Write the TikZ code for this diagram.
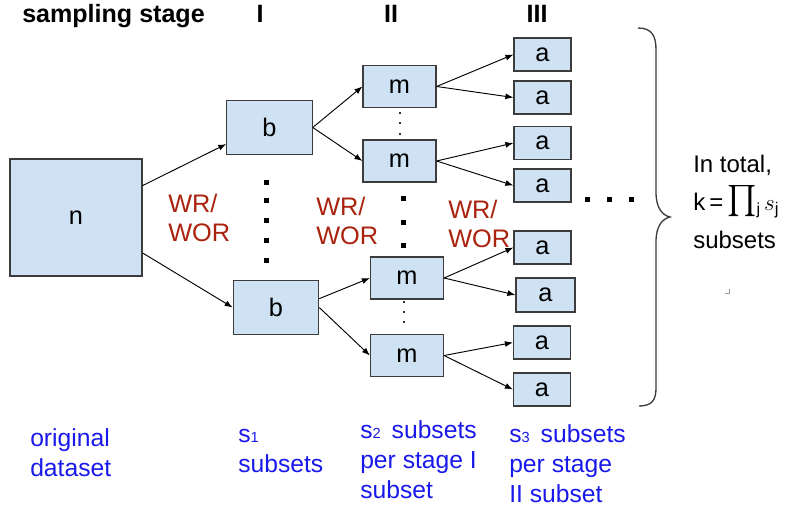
\documentclass[tikz,border=0pt]{standalone}
\usepackage{fontspec}
\setmainfont{Liberation Sans}
\usepackage{amsmath}
\usepackage{graphicx}
\usetikzlibrary{calc,arrows.meta}
\definecolor{boxfill}{RGB}{207,226,243}
\definecolor{boxline}{RGB}{60,60,60}
\definecolor{wrred}{RGB}{170,35,15}
\definecolor{lblblue}{RGB}{25,25,235}
\begin{document}
\begin{tikzpicture}[x=0.75pt,y=-0.75pt,
  box/.style={draw=boxline, fill=boxfill, line width=0.9pt, inner sep=0pt, font=\fontsize{19}{23}\selectfont},
  abox/.style={box, minimum width=42.75pt, minimum height=24.75pt},
  mbox/.style={box, minimum width=54.75pt, minimum height=31.5pt},
  bbox/.style={box, minimum width=64pt, minimum height=40.5pt},
  conn/.style={-{Latex[length=6pt,width=4.5pt]}, line width=0.7pt},
  hdr/.style={font=\fontsize{18.8}{22}\selectfont\bfseries, inner sep=0pt, anchor=base},
  wr/.style={text=wrred, font=\fontsize{19}{21.75}\selectfont, align=left, inner sep=0pt, anchor=base west},
  lbl/.style={text=lblblue, font=\fontsize{18.5}{22.3}\selectfont, align=left, inner sep=0pt, anchor=base west},
  txt/.style={font=\fontsize{18}{28.5}\selectfont, align=left, inner sep=0pt, anchor=base west},
  brace/.style={draw=boxline, line width=1pt},
]
\useasboundingbox (0,0) rectangle (787,506);

% headers
\node[hdr, anchor=base west] (hs) at (22,23) {sampling stage};
\node[hdr] (h1) at (260,23) {I};
\node[hdr] (h2) at (391,23) {II};
\node[hdr] (h3) at (537,23) {III};

% boxes
\node[box, minimum width=99pt, minimum height=87.75pt] (n) at (76,217.5) {n};
\node[bbox] (b1) at (269.5,127.5) {b};
\node[bbox] (b2) at (276,307.5) {b};
\node[mbox] (m1) at (399.5,86.5) {m};
\node[mbox] (m2) at (399.5,161) {m};
\node[mbox] (m3) at (407,278) {m};
\node[mbox] (m4) at (407,355.5) {m};
\node[abox] (a1) at (542.5,54.5) {a};
\node[abox] (a2) at (542.5,97.5) {a};
\node[abox] (a3) at (542.5,143) {a};
\node[abox] (a4) at (542.5,185.5) {a};
\node[abox] (a5) at (542.5,247.5) {a};
\node[abox, minimum width=44.25pt, minimum height=25.5pt] (a6) at (545.5,295) {a};
\node[abox] (a7) at (542,342.5) {a};
\node[abox] (a8) at (542,389.5) {a};

% connectors
\draw[conn] ($(n.north east)!0.23!(n.south east)$) -- ($(b1.north west)!0.8!(b1.south west)$);
\draw[conn] ($(n.north east)!0.8!(n.south east)$) -- (b2.west);
\draw[conn] (b1.east) -- (m1.west);
\draw[conn] (b1.east) -- (m2.west);
\draw[conn] ($(b2.north east)!0.34!(b2.south east)$) -- (m3.west);
\draw[conn] (b2.east) -- (m4.west);
\draw[conn] (m1.east) -- (a1.west);
\draw[conn] (m1.east) -- (a2.west);
\draw[conn] (m2.east) -- (a3.west);
\draw[conn] (m2.east) -- (a4.west);
\draw[conn] (m3.east) -- (a5.west);
\draw[conn] (m3.east) -- (a6.west);
\draw[conn] (m4.east) -- (a7.west);
\draw[conn] (m4.east) -- (a8.west);

% dots
\foreach \y in {182,200,220,240,260}
  \fill (263.5,\y-2.5) rectangle ++(5,5);
\foreach \y in {198,222,245}
  \fill (400.5,\y-2.5) rectangle ++(5,5);
\foreach \x in {587,609,631}
  \fill (\x-2.5,197) rectangle ++(5,5);
\foreach \y in {113,123,134}
  \fill[black!80] (399,\y-1.2) rectangle ++(2.4,2.4);
\foreach \y in {302,312,322}
  \fill[black!80] (403,\y-1.2) rectangle ++(2.4,2.4);

% WR/WOR labels (anchor = baseline of last line)
\node[wr] (wr1) at (168,241) {WR/\\WOR};
\node[wr] (wr2) at (316,244) {WR/\\WOR};
\node[wr] (wr3) at (448,247) {WR/\\WOR};

% brace
\draw[brace] (638,28) .. controls (652,28) and (656,36) .. (656,50) -- (656,192)
  .. controls (656,208) and (662,215) .. (670,217)
  .. controls (662,219) and (656,226) .. (656,242) -- (656,388)
  .. controls (656,400) and (652,406) .. (639,406);
\draw[black!40, line width=0.6pt] (725,293) -- (729,293) -- (729,289);

% total
\node[txt] (tot) at (693,248) {In total,\\k\,=\,\raisebox{1pt}{\scalebox{1.35}{$\prod$}}{\fontsize{12}{12}\selectfont\raisebox{-3pt}{j}}\,$s_{\text{j}}$\\subsets};

% bottom labels
\node[lbl] (l0) at (30,476) {original\\dataset};
\node[lbl] (l1) at (238,472) {s{\fontsize{11}{11}\selectfont 1}\\subsets};
\node[lbl] (l2) at (360,498) {s{\fontsize{11}{11}\selectfont 2}\, subsets\\per stage I\\subset};
\node[lbl] (l3) at (509,502) {s{\fontsize{11}{11}\selectfont 3}\, subsets\\per stage\\II subset};
\end{tikzpicture}
\end{document}
